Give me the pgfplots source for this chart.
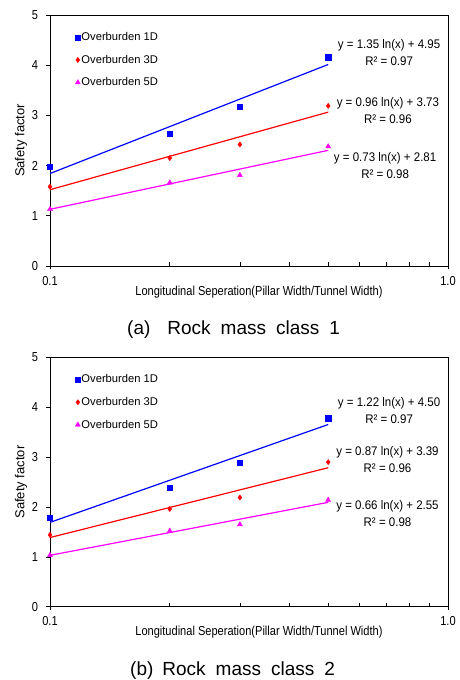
\documentclass[border=0pt]{standalone}
\usepackage{fontspec}
\setmainfont{Liberation Sans}
\newfontfamily\narrow{Liberation Sans}[FakeStretch=0.85]
\newfontfamily\semi{Liberation Sans}[FakeStretch=0.92]
\usepackage{pgfplots}
\pgfplotsset{compat=1.18}
\definecolor{cBlue}{RGB}{0,0,255}
\definecolor{cRed}{RGB}{255,0,0}
\definecolor{cMag}{RGB}{255,0,255}
\pgfplotsset{
  legend image code/.code={\draw[#1, mark repeat=2, mark phase=2] plot coordinates {(0pt,0pt) (3pt,0pt) (6pt,0pt)};},
  every axis x label/.style={at={(rel axis cs:0.525,-0.104)}, anchor=center, font=\narrow\fontsize{13}{14}\selectfont},
  every axis y label/.style={at={(rel axis cs:-0.073,0.5)}, anchor=center, rotate=90, font=\fontsize{13}{14}\selectfont},
  every tick/.style={black, line width=0.6pt},
}
\tikzset{eq/.style={font=\semi\fontsize{12.5}{17}\selectfont, align=center, anchor=center}}
\begin{document}
\begin{tikzpicture}
\path[use as bounding box] (0,0) rectangle (460pt,680pt);
% ---------- panel (a)
\begin{axis}[scale only axis, width=398pt, height=251pt, at={(50pt,414pt)}, anchor=south west,
    xmode=log, xmin=0.1, xmax=1, ymin=0, ymax=5,
    xtick={0.1,1}, xticklabels={0.1,1.0},
    minor xtick={0.2,0.3,0.4,0.5,0.6,0.7,0.8,0.9},
    ytick={0,1,2,3,4,5},
    xtick pos=left, ytick pos=left,
    tick align=outside, major tick length=3.5pt, minor tick length=-3.5pt,
    axis line style={line width=0.7pt},
    tick label style={font=\narrow\fontsize{13}{14}\selectfont},
    yticklabel style={xshift=-5pt, /pgf/number format/assume math mode=true},
    xticklabel style={yshift=-3pt},
    clip=false,
    xlabel={Longitudinal Seperation(Pillar Width/Tunnel Width)},
    ylabel={Safety factor},
    legend style={at={(rel axis cs:0.063,0.935)}, anchor=north west, draw=none, fill=none,
      font=\fontsize{11.2}{13}\selectfont, row sep=11pt, inner sep=0pt,
      nodes={inner sep=1pt}},
    legend cell align=left]
\addplot[only marks, mark=square*, mark size=2.6pt, cBlue] coordinates {(0.1,1.97) (0.2,2.63) (0.3,3.17) (0.5,4.16)};
\addlegendentry{Overburden 1D}
\addplot[only marks, mark=diamond*, mark size=2.6pt, cRed] coordinates {(0.1,1.58) (0.2,2.15) (0.3,2.42) (0.5,3.19)};
\addlegendentry{Overburden 3D}
\addplot[only marks, mark=triangle*, mark size=2.9pt, cMag] coordinates {(0.1,1.13) (0.2,1.66) (0.3,1.81) (0.5,2.38)};
\addlegendentry{Overburden 5D}
\addplot[cBlue, line width=1.2pt, forget plot] coordinates {(0.1,1.842) (0.5,4.014)};
\addplot[cRed, line width=1.2pt, forget plot] coordinates {(0.1,1.520) (0.5,3.065)};
\addplot[cMag, line width=1.2pt, forget plot] coordinates {(0.1,1.129) (0.5,2.304)};
\node[eq] at (rel axis cs:0.852,0.851) {y = 1.35 ln(x) + 4.95\\R² = 0.97};
\node[eq] at (rel axis cs:0.849,0.618) {y = 0.96 ln(x) + 3.73\\R² = 0.96};
\node[eq] at (rel axis cs:0.842,0.400) {y = 0.73 ln(x) + 2.81\\R² = 0.98};
\end{axis}
% ---------- panel (b)
\begin{axis}[scale only axis, width=398pt, height=249.3pt, at={(50pt,73.3pt)}, anchor=south west,
    xmode=log, xmin=0.1, xmax=1, ymin=0, ymax=5,
    xtick={0.1,1}, xticklabels={0.1,1.0},
    minor xtick={0.2,0.3,0.4,0.5,0.6,0.7,0.8,0.9},
    ytick={0,1,2,3,4,5},
    xtick pos=left, ytick pos=left,
    tick align=outside, major tick length=3.5pt, minor tick length=-3.5pt,
    axis line style={line width=0.7pt},
    tick label style={font=\narrow\fontsize{13}{14}\selectfont},
    yticklabel style={xshift=-5pt, /pgf/number format/assume math mode=true},
    xticklabel style={yshift=-3pt},
    clip=false,
    xlabel={Longitudinal Seperation(Pillar Width/Tunnel Width)},
    ylabel={Safety factor},
    legend style={at={(rel axis cs:0.063,0.935)}, anchor=north west, draw=none, fill=none,
      font=\fontsize{11.2}{13}\selectfont, row sep=11pt, inner sep=0pt,
      nodes={inner sep=1pt}},
    legend cell align=left]
\addplot[only marks, mark=square*, mark size=2.6pt, cBlue] coordinates {(0.1,1.78) (0.2,2.39) (0.3,2.89) (0.5,3.78)};
\addlegendentry{Overburden 1D}
\addplot[only marks, mark=diamond*, mark size=2.6pt, cRed] coordinates {(0.1,1.44) (0.2,1.96) (0.3,2.19) (0.5,2.90)};
\addlegendentry{Overburden 3D}
\addplot[only marks, mark=triangle*, mark size=2.9pt, cMag] coordinates {(0.1,1.03) (0.2,1.52) (0.3,1.65) (0.5,2.14)};
\addlegendentry{Overburden 5D}
\addplot[cBlue, line width=1.2pt, forget plot] coordinates {(0.1,1.691) (0.5,3.654)};
\addplot[cRed, line width=1.2pt, forget plot] coordinates {(0.1,1.387) (0.5,2.787)};
\addplot[cMag, line width=1.2pt, forget plot] coordinates {(0.1,1.030) (0.5,2.093)};
\node[eq] at (rel axis cs:0.852,0.786) {y = 1.22 ln(x) + 4.50\\R² = 0.97};
\node[eq] at (rel axis cs:0.848,0.589) {y = 0.87 ln(x) + 3.39\\R² = 0.96};
\node[eq] at (rel axis cs:0.848,0.374) {y = 0.66 ln(x) + 2.55\\R² = 0.98};
\end{axis}
% ---------- captions
\node[anchor=base west, inner sep=0pt, font=\fontsize{19}{22}\selectfont] at (127pt,345pt)
  {(a)\hspace{17pt}Rock\hspace{10pt}mass\hspace{10pt}class\hspace{10pt}1};
\node[anchor=base west, inner sep=0pt, font=\fontsize{19}{22}\selectfont] at (130pt,4.5pt)
  {(b)\hspace{9pt}Rock\hspace{10pt}mass\hspace{10pt}class\hspace{10pt}2};
\end{tikzpicture}
\end{document}
